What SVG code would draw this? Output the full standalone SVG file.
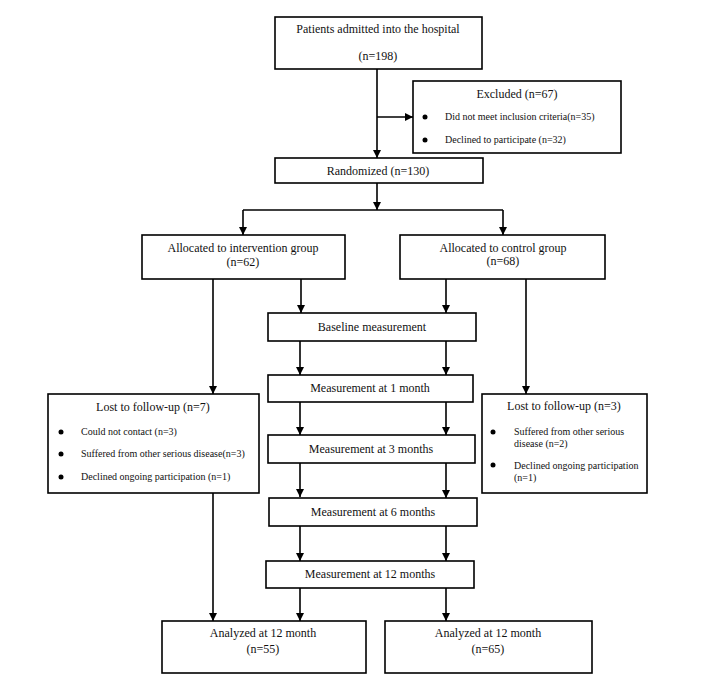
<svg xmlns="http://www.w3.org/2000/svg" width="714" height="690" viewBox="0 0 714 690">
<defs>
<marker id="ah" markerUnits="userSpaceOnUse" markerWidth="9" markerHeight="9" refX="8" refY="4" orient="auto">
<path d="M0,0 L8,4 L0,8 z" fill="#000"/>
</marker>
<style>
.box{fill:#fff;stroke:#000;stroke-width:1.6}
.t{font-family:"Liberation Serif","Times New Roman",serif;font-size:12px;fill:#111;text-anchor:middle}
.s{font-family:"Liberation Serif","Times New Roman",serif;font-size:10px;fill:#111}
.c{stroke:#000;stroke-width:1.6;fill:none}
.a{marker-end:url(#ah)}
</style>
</defs>
<rect width="714" height="690" fill="#fff"/>
<g id="connectors" class="c">
<line x1="377" y1="69" x2="377" y2="158" class="a"/>
<line x1="377" y1="117" x2="413" y2="117" class="a"/>
<line x1="377" y1="183" x2="377" y2="210" class="a"/>
<line x1="243" y1="210" x2="503" y2="210"/>
<line x1="243" y1="210" x2="243" y2="235" class="a"/>
<line x1="503" y1="210" x2="503" y2="235" class="a"/>
<line x1="213" y1="279" x2="213" y2="394" class="a"/>
<line x1="301" y1="279" x2="301" y2="313" class="a"/>
<line x1="446" y1="279" x2="446" y2="313" class="a"/>
<line x1="526" y1="279" x2="526" y2="394" class="a"/>
<line x1="300" y1="341" x2="300" y2="375" class="a"/>
<line x1="446" y1="341" x2="446" y2="375" class="a"/>
<line x1="300" y1="402" x2="300" y2="435" class="a"/>
<line x1="446" y1="402" x2="446" y2="435" class="a"/>
<line x1="300" y1="463" x2="300" y2="497" class="a"/>
<line x1="446" y1="463" x2="446" y2="498" class="a"/>
<line x1="300" y1="526" x2="300" y2="561" class="a"/>
<line x1="446" y1="526" x2="446" y2="561" class="a"/>
<line x1="213" y1="493" x2="213" y2="621" class="a"/>
<line x1="300" y1="588" x2="300" y2="621" class="a"/>
<line x1="446" y1="588" x2="446" y2="621" class="a"/>
</g>
<g id="admitted">
<rect class="box" x="275" y="17" width="207" height="52"/>
<text class="t" x="378" y="33">Patients admitted into the hospital</text>
<text class="t" x="378" y="60">(n=198)</text>
</g>
<g id="excluded">
<rect class="box" x="413" y="81" width="208" height="72"/>
<text class="t" x="517" y="98">Excluded (n=67)</text>
<circle cx="425" cy="117" r="2.5"/>
<text class="s" x="445" y="120">Did not meet inclusion criteria(n=35)</text>
<circle cx="425" cy="140" r="2.5"/>
<text class="s" x="445" y="143">Declined to participate (n=32)</text>
</g>
<g id="randomized">
<rect class="box" x="275" y="158" width="208" height="25"/>
<text class="t" x="378" y="175">Randomized (n=130)</text>
</g>
<g id="intervention">
<rect class="box" x="142" y="235" width="203" height="44"/>
<text class="t" x="243" y="252">Allocated to intervention group</text>
<text class="t" x="243" y="266">(n=62)</text>
</g>
<g id="control">
<rect class="box" x="400" y="235" width="205" height="44"/>
<text class="t" x="503" y="252">Allocated to control group</text>
<text class="t" x="503" y="265">(n=68)</text>
</g>
<g id="baseline">
<rect class="box" x="268" y="313" width="208" height="28"/>
<text class="t" x="372" y="331">Baseline measurement</text>
</g>
<g id="m1">
<rect class="box" x="268" y="375" width="205" height="27"/>
<text class="t" x="370" y="392">Measurement at 1 month</text>
</g>
<g id="m3">
<rect class="box" x="268" y="435" width="207" height="28"/>
<text class="t" x="371" y="453">Measurement at 3 months</text>
</g>
<g id="m6">
<rect class="box" x="269" y="498" width="208" height="28"/>
<text class="t" x="373" y="516">Measurement at 6 months</text>
</g>
<g id="m12">
<rect class="box" x="266" y="561" width="208" height="27"/>
<text class="t" x="370" y="578">Measurement at 12 months</text>
</g>
<g id="lost-intervention">
<rect class="box" x="48" y="394" width="211" height="99"/>
<text class="t" x="153" y="411">Lost to follow-up (n=7)</text>
<circle cx="61" cy="432" r="2.5"/>
<text class="s" x="81" y="435">Could not contact (n=3)</text>
<circle cx="61" cy="454" r="2.5"/>
<text class="s" x="81" y="457">Suffered from other serious disease(n=3)</text>
<circle cx="61" cy="477" r="2.5"/>
<text class="s" x="81" y="480">Declined ongoing participation (n=1)</text>
</g>
<g id="lost-control">
<rect class="box" x="482" y="394" width="165" height="99"/>
<text class="t" x="564" y="410">Lost to follow-up (n=3)</text>
<circle cx="493" cy="432" r="2.5"/>
<text class="s" x="514" y="435">Suffered from other serious</text>
<text class="s" x="514" y="447">disease (n=2)</text>
<circle cx="493" cy="465" r="2.5"/>
<text class="s" x="514" y="469">Declined ongoing participation</text>
<text class="s" x="514" y="481">(n=1)</text>
</g>
<g id="analyzed-intervention">
<rect class="box" x="162" y="621" width="204" height="52"/>
<text class="t" x="263" y="637">Analyzed at 12 month</text>
<text class="t" x="263" y="653">(n=55)</text>
</g>
<g id="analyzed-control">
<rect class="box" x="385" y="621" width="207" height="52"/>
<text class="t" x="488" y="637">Analyzed at 12 month</text>
<text class="t" x="488" y="653">(n=65)</text>
</g>
</svg>
